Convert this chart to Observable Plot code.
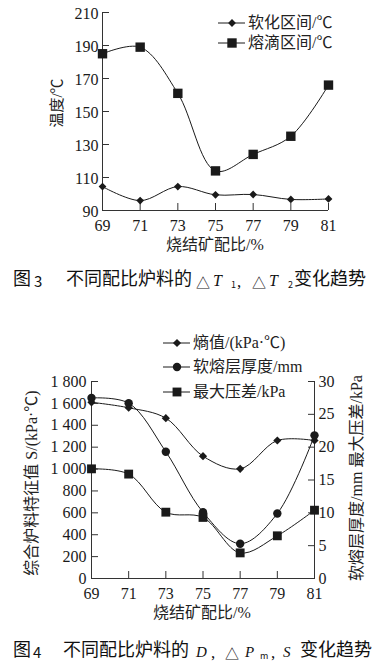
<!DOCTYPE html>
<html><head><meta charset="utf-8">
<script src="https://cdn.jsdelivr.net/npm/d3@7"></script>
<script src="https://cdn.jsdelivr.net/npm/@observablehq/plot@0.6"></script>
<style>
body{margin:0;background:#fff;}
#wrap{position:relative;width:382px;height:669px;overflow:hidden;background:#fff;color:#222;}
.abs{position:absolute;white-space:nowrap;line-height:1;}
.ser{font-family:"Liberation Serif","Noto Sans CJK SC",serif;font-size:16px;color:#222;}
.cap{font-family:"Noto Sans CJK SC",sans-serif;font-size:18px;color:#111;}
.it{font-family:"Liberation Serif",serif;font-style:italic;}
.rm{font-family:"Liberation Serif",serif;}
</style>
</head><body><div id="wrap"></div>
<script>
// ---- data ----
const ratios = [69, 71, 73, 75, 77, 79, 81];
const softening = [104.5, 96, 104.5, 99.5, 99.7, 96.7, 97];      // 软化区间/℃
const dripping = [185, 189, 161, 114, 124, 135, 166];            // 熔滴区间/℃
const entropy = [1610, 1560, 1465, 1118, 1002, 1261, 1261];     // 熵值/(kPa·℃)
const thickness = [27.5, 26.7, 19.3, 10.1, 5.3, 9.9, 21.8];     // 软熔层厚度/mm
const pressure = [16.7, 15.9, 10.1, 9.3, 3.9, 6.5, 10.4];       // 最大压差/kPa
const tempTicks = [90, 110, 130, 150, 170, 190, 210];
const sTicks = [0, 200, 400, 600, 800, 1000, 1200, 1400, 1600, 1800];
const rightTicks = [0, 5, 10, 15, 20, 25, 30];

const wrap = document.getElementById("wrap");
const ink = "#1a1a1a", axisInk = "#333";

function place(html, cls, css) {
  const d = document.createElement("div");
  d.className = "abs " + cls;
  d.innerHTML = html;
  Object.assign(d.style, css);
  wrap.appendChild(d);
  return d;
}

// ---- chart 1 ----
const t1 = ratios.map((r, i) => ({r, soft: softening[i], drip: dripping[i]}));
const p1 = Plot.plot({
  width: 382, height: 258,
  marginTop: 12, marginLeft: 102, marginRight: 54, marginBottom: 48,
  style: {fontFamily: "'Liberation Serif','Noto Sans CJK SC',serif", fontSize: "16px", color: ink, background: "transparent"},
  x: {domain: [69, 81]},
  y: {domain: [90, 210]},
  marks: [
    Plot.ruleX([69], {stroke: axisInk}),
    Plot.ruleY([90], {stroke: axisInk}),
    Plot.axisY(tempTicks, {tickSize: -7, fill: "none", stroke: axisInk}),
    Plot.axisY(tempTicks, {tickSize: 0, tickPadding: 4, label: null, fill: ink, dy: 1}),
    Plot.axisX(ratios, {tickSize: -7, fill: "none", stroke: axisInk}),
    Plot.axisX(ratios, {tickSize: 0, tickPadding: 9, label: null, fill: ink}),
    Plot.line(t1, {x: "r", y: "drip", curve: "catmull-rom", stroke: ink, strokeWidth: 1}),
    Plot.line(t1, {x: "r", y: "soft", curve: "catmull-rom", stroke: ink, strokeWidth: 1}),
    Plot.dot(t1, {x: "r", y: "drip", symbol: "square", r: 5.3, fill: ink, stroke: "none"}),
    Plot.dot(t1, {x: "r", y: "soft", symbol: "diamond2", r: 3.5, fill: ink, stroke: "none"})
  ]
});
p1.style.position = "absolute"; p1.style.left = "0px"; p1.style.top = "0px";
wrap.appendChild(p1);

// ---- chart 2 ----
const k = 1800 / 30;
const t2 = ratios.map((r, i) => ({r, s: entropy[i], th: thickness[i] * k, dp: pressure[i] * k}));
const fmtS = d => d >= 1000 ? `${Math.floor(d / 1000)} ${String(d % 1000).padStart(3, "0")}` : `${d}`;
const p2 = Plot.plot({
  width: 382, height: 340,
  marginTop: 91, marginLeft: 91, marginRight: 68, marginBottom: 52,
  style: {fontFamily: "'Liberation Serif','Noto Sans CJK SC',serif", fontSize: "16px", color: ink, background: "transparent"},
  x: {domain: [69, 81]},
  y: {domain: [0, 1800]},
  marks: [
    Plot.ruleX([69, 81], {stroke: axisInk}),
    Plot.ruleY([0], {stroke: axisInk}),
    Plot.axisY(sTicks, {tickSize: -7, fill: "none", stroke: axisInk}),
    Plot.axisY(sTicks, {tickSize: 0, tickPadding: 5, label: null, fill: ink, tickFormat: fmtS, dy: 0}),
    Plot.axisY(rightTicks.map(d => d * k), {anchor: "right", tickSize: -7, fill: "none", stroke: axisInk}),
    Plot.axisY(rightTicks.map(d => d * k), {anchor: "right", tickSize: 0, tickPadding: 4, label: null, fill: ink, tickFormat: d => d / k, dy: 0}),
    Plot.axisX(ratios, {tickSize: -7, fill: "none", stroke: axisInk}),
    Plot.axisX(ratios, {tickSize: 0, tickPadding: 9, label: null, fill: ink}),
    Plot.line(t2, {x: "r", y: "s", curve: "catmull-rom", stroke: ink, strokeWidth: 1}),
    Plot.line(t2, {x: "r", y: "th", curve: "catmull-rom", stroke: ink, strokeWidth: 1}),
    Plot.line(t2, {x: "r", y: "dp", curve: "catmull-rom", stroke: ink, strokeWidth: 1}),
    Plot.dot(t2, {x: "r", y: "s", symbol: "diamond2", r: 3.7, fill: ink, stroke: "none"}),
    Plot.dot(t2, {x: "r", y: "th", symbol: "circle", r: 4.2, fill: ink, stroke: "none"}),
    Plot.dot(t2, {x: "r", y: "dp", symbol: "square", r: 5, fill: ink, stroke: "none"})
  ]
});
p2.style.position = "absolute"; p2.style.left = "0px"; p2.style.top = "290px";
wrap.appendChild(p2);

// ---- legends ----
function legendItem(x, y, sym, r, label) {
  const svg = d3.create("svg").attr("width", 30).attr("height", 14)
    .style("position", "absolute").style("left", (x - 1) + "px").style("top", (y - 7) + "px");
  svg.append("line").attr("x1", 1).attr("x2", 28).attr("y1", 7).attr("y2", 7).attr("stroke", ink);
  svg.append("path").attr("transform", "translate(15,7)").attr("fill", ink)
    .attr("d", d3.symbol(sym, r * r * Math.PI)());
  wrap.appendChild(svg.node());
  place(label, "ser", {left: (x + 30) + "px", top: (y - 8.5) + "px"});
}
legendItem(218, 23, d3.symbolDiamond2, 3.5, "软化区间/℃");
legendItem(218, 43, d3.symbolSquare, 5.3, "熔滴区间/℃");
legendItem(163, 343, d3.symbolDiamond2, 3.7, "熵值/(kPa·℃)");
legendItem(163, 367, d3.symbolCircle, 4.2, "软熔层厚度/mm");
legendItem(163, 392, d3.symbolSquare, 5, "最大压差/kPa");

// ---- axis titles ----
place("烧结矿配比/%", "ser", {left: "166px", top: "237px"});
place("温度/℃", "ser", {left: "57px", top: "103px", transform: "translate(-50%,-50%) rotate(-90deg)", fontSize: "15px"});
place("烧结矿配比/%", "ser", {left: "153px", top: "605px"});
place("综合炉料特征值 S/(kPa·℃)", "ser", {left: "32px", top: "483px", transform: "translate(-50%,-50%) rotate(-90deg)"});
place("软熔层厚度/mm 最大压差/kPa", "ser", {left: "357px", top: "478px", transform: "translate(-50%,-50%) rotate(-90deg)"});

// ---- captions ----
function caption(y, parts) {
  for (const [txt, x, dy, size, cls] of parts) {
    place(txt, "cap " + (cls || ""), {left: x + "px", top: (y + dy) + "px", fontSize: size + "px"});
  }
}
caption(268, [
  ["图", 13, 0, 18], ["3", 34, 5, 15], ["不同配比炉料的", 66, 0, 18],
  ["△", 196, 7, 14], ["T", 213, 5, 16, "it"], ["1", 231, 12, 9], [",", 237, 5, 17, "rm"],
  ["△", 252, 7, 14], ["T", 269, 5, 16, "it"], ["2", 288, 12, 9], ["变化趋势", 294, 0, 18]
]);
caption(639, [
  ["图", 13, 0, 18], ["4", 33, 5, 15], ["不同配比炉料的", 63, 0, 18],
  ["D", 196, 6, 15, "it"], [",", 211, 5, 17, "rm"], ["△", 225, 7, 14], ["P", 245, 6, 15, "it"],
  ["m", 260, 12, 9], [",", 271, 5, 17, "rm"], ["S", 283, 6, 15, "it"], ["变化趋势", 300, 0, 18]
]);
</script>
</body></html>
